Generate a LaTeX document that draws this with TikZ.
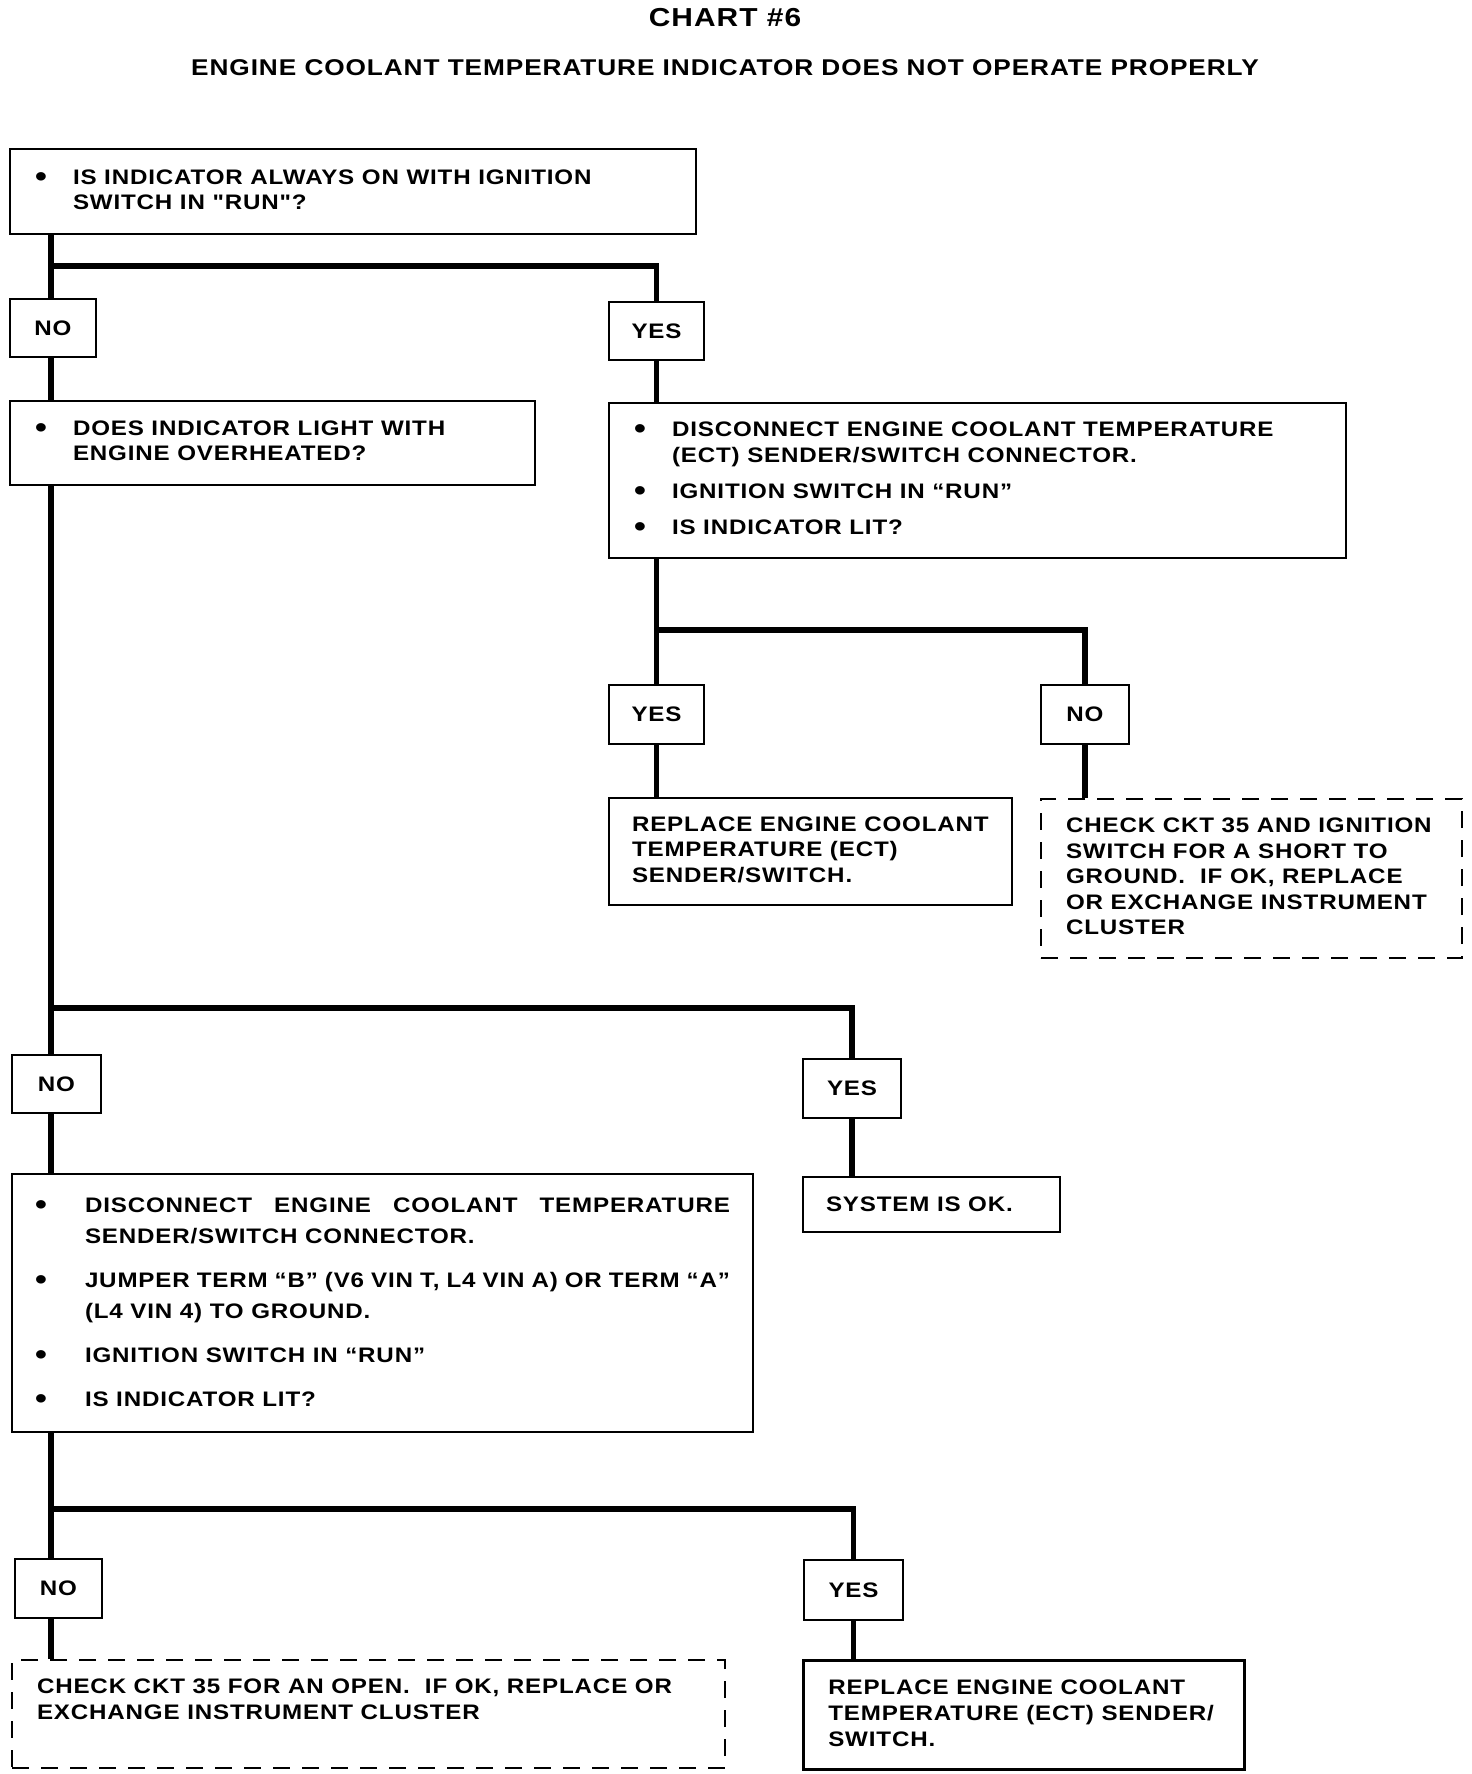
\documentclass[tikz,border=0pt]{standalone}
\usepackage{fontspec}
\newfontfamily\chartfont{Liberation Sans}[FakeStretch=1.15,LetterSpace=4]
\newcommand\chfs[1]{\fontsize{10.5}{#1}\selectfont}
\newcommand\bigdot{\raisebox{-1pt}{\scalebox{1.4}{\textbullet}}}
\newcommand\bu{\makebox[19pt][l]{\bigdot}}
\newcommand\bigbu{\makebox[25pt][l]{\bigdot}}
\newcommand\jline[2]{\hbox to #1{\spaceskip=0pt plus 1fil\relax\xspaceskip=0pt plus 1fil\relax #2}}
\tikzset{
  box/.style={draw, line width=1pt, inner sep=0pt, anchor=north west, font=\chartfont\bfseries},
  dbox/.style={box, dash pattern=on 8.5pt off 6pt},
  lbl/.style={box, font=\chartfont\bfseries\fontsize{10.5}{12}\selectfont},
  conn/.style={line width=2.6pt, line join=miter},
}
\begin{document}
\begin{tikzpicture}[x=0.5pt, y=-0.5pt]
\useasboundingbox (0,0) rectangle (1472,1774);

% titles
\node[font=\chartfont\bfseries\fontsize{13}{15}\selectfont] (title) at (725,18) {CHART \#6};
\node[font=\chartfont\bfseries\fontsize{11.4}{13}\selectfont] (subtitle) at (725,68) {ENGINE COOLANT TEMPERATURE INDICATOR DOES NOT OPERATE PROPERLY};

% boxes
\node[box, minimum width=343pt, minimum height=42.5pt] (b1) at (9,148)
 {\chfs{12.5}\makebox[318pt][l]{\begin{tabular}{@{}l@{}l@{}}
  \bu & IS INDICATOR ALWAYS ON WITH IGNITION\\
      & SWITCH IN "RUN"?
 \end{tabular}}};

\node[lbl, minimum width=43pt, minimum height=29pt] (no1) at (9,298) {NO};
\node[lbl, minimum width=47.5pt, minimum height=29pt] (yes1) at (608,301) {YES};

\node[box, minimum width=262.5pt, minimum height=42pt] (b2) at (9,400)
 {\chfs{12.5}\makebox[237.5pt][l]{\begin{tabular}{@{}l@{}l@{}}
  \bu & DOES INDICATOR LIGHT WITH\\
      & ENGINE OVERHEATED?
 \end{tabular}}};

\node[box, minimum width=368.5pt, minimum height=77.5pt] (b3) at (608,402)
 {\chfs{13}\makebox[343.5pt][l]{\begin{tabular}{@{}l@{}l@{}}
  \bu & DISCONNECT ENGINE COOLANT TEMPERATURE\\
      & (ECT) SENDER/SWITCH CONNECTOR.\\[5pt]
  \bu & IGNITION SWITCH IN “RUN”\\[5pt]
  \bu & IS INDICATOR LIT?
 \end{tabular}}};

\node[lbl, minimum width=47.5pt, minimum height=29.5pt] (yes2) at (608,684) {YES};
\node[lbl, minimum width=44pt, minimum height=29.5pt] (no2) at (1040,684) {NO};

\node[box, minimum width=201.5pt, minimum height=53.5pt] (r1) at (608,797)
 {\chfs{12.75}\makebox[178.5pt][l]{\begin{tabular}{@{}l@{}}
  REPLACE ENGINE COOLANT\\
  TEMPERATURE (ECT)\\
  SENDER/SWITCH.
 \end{tabular}}};

\node[dbox, minimum width=210.5pt, minimum height=79.5pt] (d1) at (1040,798)
 {\chfs{12.75}\makebox[185.5pt][l]{\begin{tabular}{@{}l@{}}
  CHECK CKT 35 AND IGNITION\\
  SWITCH FOR A SHORT TO\\
  GROUND.\ \ IF OK, REPLACE\\
  OR EXCHANGE INSTRUMENT\\
  CLUSTER
 \end{tabular}}};

\node[lbl, minimum width=44.5pt, minimum height=29pt] (no3) at (11,1054) {NO};
\node[lbl, minimum width=49pt, minimum height=29.5pt] (yes3) at (802,1058) {YES};

\node[box, minimum width=128.5pt, minimum height=27.5pt] (ok) at (802,1176)
 {\chfs{13}\makebox[105.5pt][l]{SYSTEM IS OK.}};

\node[box, minimum width=370.5pt, minimum height=129pt] (b4) at (11,1173)
 {\chfs{15.5}\makebox[347.5pt][l]{\begin{tabular}{@{}l@{}l@{}}
  \bigbu & \jline{322.5pt}{DISCONNECT ENGINE COOLANT TEMPERATURE}\\
         & SENDER/SWITCH CONNECTOR.\\[6.5pt]
  \bigbu & \jline{322.5pt}{JUMPER TERM “B” (V6 VIN T, L4 VIN A) OR TERM “A”}\\
         & (L4 VIN 4) TO GROUND.\\[6.5pt]
  \bigbu & IGNITION SWITCH IN “RUN”\\[6.5pt]
  \bigbu & IS INDICATOR LIT?
 \end{tabular}}};

\node[lbl, minimum width=43.5pt, minimum height=29.5pt] (no4) at (14,1558) {NO};
\node[lbl, minimum width=49.5pt, minimum height=30pt] (yes4) at (803,1559) {YES};

\node[dbox, minimum width=356.5pt, minimum height=54pt] (d2) at (11,1659)
 {\chfs{13}\makebox[331.5pt][l]{\begin{tabular}{@{}l@{}}
  CHECK CKT 35 FOR AN OPEN.\ \ IF OK, REPLACE OR\\
  EXCHANGE INSTRUMENT CLUSTER\\
  {}
 \end{tabular}}};

\node[box, line width=1.3pt, minimum width=220.5pt, minimum height=54.5pt] (r2) at (802,1659)
 {\chfs{13}\makebox[195.5pt][l]{\begin{tabular}{@{}l@{}}
  REPLACE ENGINE COOLANT\\
  TEMPERATURE (ECT) SENDER/\\
  SWITCH.
 \end{tabular}}};

% junctions
\coordinate (tr) at (51,0);
\coordinate (j1) at (51,266);
\coordinate (j2) at (yes2.north |- 0,630);
\coordinate (j3) at (51,1008);
\coordinate (j4) at (51,1509);

% connectors
\draw[conn] (b1.south -| tr) -- (no1.north -| tr);
\draw[conn] (no1.south -| tr) -- (b2.north -| tr);
\draw[conn] (j1) -| (yes1.north);
\draw[conn] (yes1.south) -- (b3.north -| yes1.south);
\draw[conn] (b3.south -| yes2.north) -- (yes2.north);
\draw[conn] (j2) -| (no2.north);
\draw[conn] (yes2.south) -- (r1.north -| yes2.south);
\draw[conn] (no2.south) -- (d1.north -| no2.south);
\draw[conn] (b2.south -| tr) -- (no3.north -| tr);
\draw[conn] (j3) -| (yes3.north);
\draw[conn] (yes3.south) -- (ok.north -| yes3.south);
\draw[conn] (no3.south -| tr) -- (b4.north -| tr);
\draw[conn] (b4.south -| tr) -- (no4.north -| tr);
\draw[conn] (j4) -| (yes4.north);
\draw[conn] (yes4.south) -- (r2.north -| yes4.south);
\draw[conn] (no4.south -| tr) -- (d2.north -| tr);
\end{tikzpicture}
\end{document}
